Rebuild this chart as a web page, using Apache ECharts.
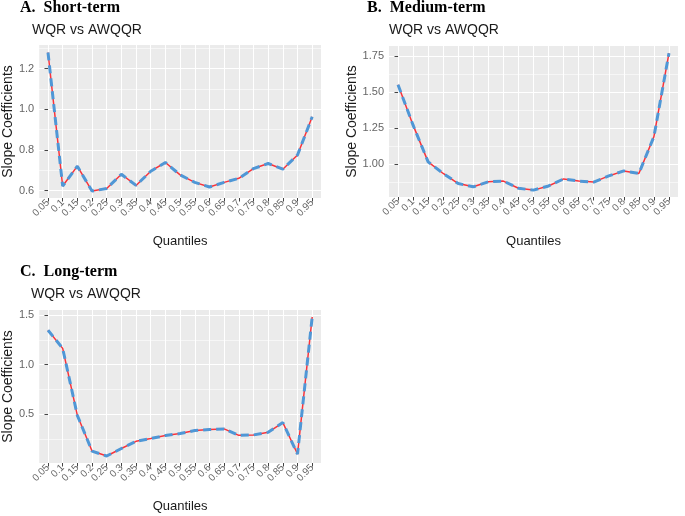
<!DOCTYPE html>
<html>
<head>
<meta charset="utf-8">
<script src="https://cdn.jsdelivr.net/npm/echarts@6/dist/echarts.min.js"></script>
<style>
html,body{margin:0;padding:0;background:#fff;}
#chart{width:685px;height:516px;}
</style>
</head>
<body>
<div id="chart"></div>
<script>
// Quantile categories (x axis tick labels)
const quantiles = ['0.05','0.1','0.15','0.2','0.25','0.3','0.35','0.4','0.45','0.5','0.55','0.6','0.65','0.7','0.75','0.8','0.85','0.9','0.95'];

// A. Short-term
const wqrShort   = [1.28,0.622,0.72,0.597,0.61,0.68,0.625,0.695,0.738,0.677,0.64,0.617,0.64,0.66,0.708,0.733,0.705,0.775,0.963];
const awqqrShort = [1.28,0.622,0.72,0.597,0.61,0.68,0.625,0.695,0.738,0.677,0.64,0.617,0.64,0.66,0.708,0.733,0.705,0.775,0.963];
// B. Medium-term
const wqrMedium   = [1.552,1.27,1.014,0.933,0.863,0.84,0.875,0.88,0.83,0.817,0.846,0.895,0.88,0.873,0.916,0.951,0.933,1.19,1.772];
const awqqrMedium = [1.552,1.27,1.014,0.933,0.863,0.84,0.875,0.88,0.83,0.817,0.846,0.895,0.88,0.873,0.916,0.951,0.933,1.19,1.772];
// C. Long-term
const wqrLong   = [1.347,1.164,0.49,0.132,0.082,0.158,0.23,0.258,0.288,0.308,0.338,0.348,0.355,0.29,0.294,0.32,0.418,0.102,1.48];
const awqqrLong = [1.347,1.164,0.49,0.132,0.082,0.158,0.23,0.258,0.288,0.308,0.338,0.348,0.355,0.29,0.294,0.32,0.418,0.102,1.48];

// Y axis ticks per panel
const yMajorShort = [0.6,0.8,1.0,1.2];
const yMinorShort = [0.7,0.9,1.1,1.3];
const yMajorMedium = [1.0,1.25,1.5,1.75];
const yMinorMedium = [0.875,1.125,1.375,1.625];
const yMajorLong = [0.5,1.0,1.5];
const yMinorLong = [0.25,0.75,1.25];

const panelTitles = ['A.  Short-term','B.  Medium-term','C.  Long-term'];
const subTitle = 'WQR vs AWQQR';

const RED = '#F8333B';
const BLUE = '#4F97D6';
const idx = quantiles.map((q,i)=>i);
function pairs(arr){ return arr.map((v,i)=>[i,v]); }

const panels = [
  {grid:{left:33,top:45,width:288,height:153}, ymin:0.563, ymax:1.317, major:yMajorShort, minor:yMinorShort, dec:1, wqr:wqrShort, awqqr:awqqrShort, yGap:21, xGap:37},
  {grid:{left:389,top:46,width:289,height:151}, ymin:0.769, ymax:1.822, major:yMajorMedium, minor:yMinorMedium, dec:2, wqr:wqrMedium, awqqr:awqqrMedium, yGap:28, xGap:38},
  {grid:{left:31,top:310,width:290,height:153}, ymin:0.012, ymax:1.55, major:yMajorLong, minor:yMinorLong, dec:1, wqr:wqrLong, awqqr:awqqrLong, yGap:19, xGap:37}
];

const titlePos = [
  {main:{left:20,top:0}, sub:{left:32,top:23}},
  {main:{left:367,top:0}, sub:{left:389,top:23}},
  {main:{left:20,top:264}, sub:{left:31,top:287}}
];

const option = {
  animation:false,
  backgroundColor:'#fff',
  title:[],
  grid:[],
  xAxis:[],
  yAxis:[],
  series:[]
};

panels.forEach((p,k)=>{
  option.title.push({text:panelTitles[k], left:titlePos[k].main.left, top:titlePos[k].main.top, padding:0,
    textStyle:{fontFamily:'Liberation Serif', fontWeight:'bold', fontSize:16, color:'#000'}});
  option.title.push({text:subTitle, left:titlePos[k].sub.left, top:titlePos[k].sub.top, padding:0,
    textStyle:{fontFamily:'Liberation Sans', fontWeight:'normal', fontSize:14, color:'#1a1a1a'}});
  option.grid.push(Object.assign({show:true, backgroundColor:'#EBEBEB', borderWidth:0, containLabel:false}, p.grid));
  option.xAxis.push({
    type:'value', gridIndex:k, min:-0.6, max:quantiles.length-1+0.6,
    name:'Quantiles', nameLocation:'middle', nameGap:p.xGap,
    nameTextStyle:{fontFamily:'Liberation Sans', fontSize:13, color:'#1a1a1a'},
    axisLine:{show:false},
    axisTick:{show:true, length:3.5, customValues:idx, lineStyle:{color:'#444', width:1}},
    axisLabel:{customValues:idx, rotate:45, margin:3, fontFamily:'Liberation Sans', fontSize:10, color:'#666',
      formatter:(v)=>quantiles[Math.round(v)]},
    splitLine:{show:true, lineStyle:{color:'#fff', width:1.1}}
  });
  // major y axis
  option.yAxis.push({
    type:'value', gridIndex:k, min:p.ymin, max:p.ymax,
    name:'Slope Coefficients', nameLocation:'middle', nameGap:p.yGap, nameRotate:90,
    nameTextStyle:{fontFamily:'Liberation Sans', fontSize:14, color:'#1a1a1a'},
    axisLine:{show:false},
    axisTick:{show:true, length:3.5, customValues:p.major, lineStyle:{color:'#444', width:1}},
    axisLabel:{customValues:p.major, margin:5, fontFamily:'Liberation Sans', fontSize:11, color:'#666',
      formatter:(v)=>v.toFixed(p.dec)},
    splitLine:{show:true, lineStyle:{color:'#fff', width:1.1}}
  });
  // minor y grid lines
  option.yAxis.push({
    type:'value', gridIndex:k, min:p.ymin, max:p.ymax, position:'left',
    axisLine:{show:false},
    axisTick:{show:false, customValues:p.minor},
    axisLabel:{show:false, customValues:p.minor},
    splitLine:{show:true, lineStyle:{color:'#fff', width:0.55}}
  });
  option.series.push({
    name:'WQR', type:'line', xAxisIndex:k, yAxisIndex:2*k, data:pairs(p.wqr),
    symbol:'none', lineStyle:{color:RED, width:1.5}, z:3
  });
  option.series.push({
    name:'AWQQR', type:'line', xAxisIndex:k, yAxisIndex:2*k, data:pairs(p.awqqr),
    symbol:'none', lineStyle:{color:BLUE, width:3, type:[8,5]}, z:4
  });
});

const chart = echarts.init(document.getElementById('chart'), null, {renderer:'canvas'});
chart.setOption(option);
</script>
</body>
</html>
